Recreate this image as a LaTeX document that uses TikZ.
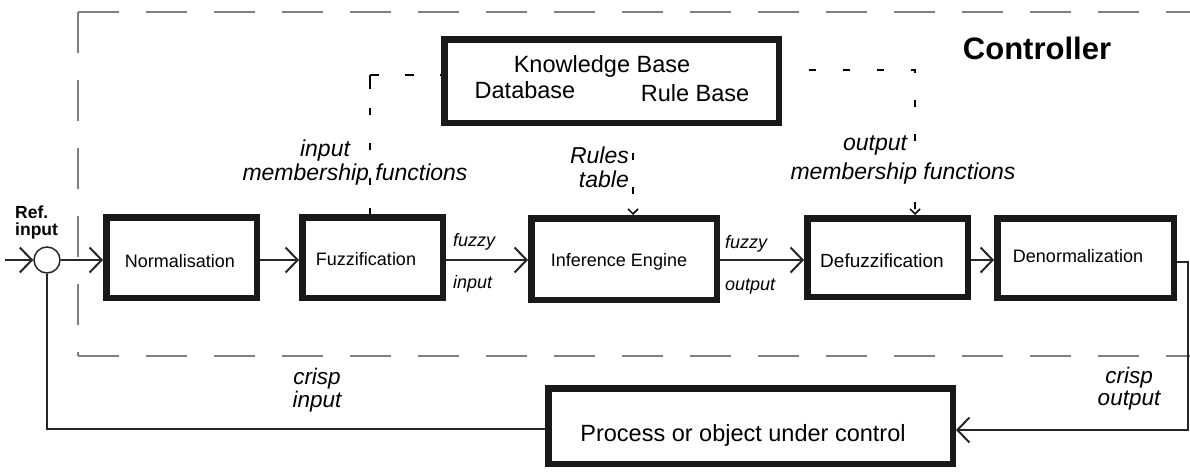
\documentclass[tikz,border=0pt]{standalone}
\usepackage{fontspec}
\setmainfont{Liberation Sans}
\usetikzlibrary{arrows.meta,calc}
\newcommand\myfs[1]{\fontsize{#1}{#1}\selectfont}
\begin{document}
\begin{tikzpicture}[x=1pt,y=-1pt,
  blk/.style={draw=black!90, line width=6.5pt, rectangle, inner sep=0pt},
  ln/.style={draw=black!85, line width=2pt},
  arr/.style={ln, -{Straight Barb[length=12pt,width=25pt]}},
  dsh/.style={draw=black, line width=1.5pt, dash pattern=on 7pt off 27pt, dash phase=7pt},
  sarr/.style={-{Straight Barb[length=5pt,width=10pt]}},
  bnd/.style={draw=black!50, line width=1.5pt, dash pattern=on 41pt off 27pt},
  t/.style={inner sep=0pt, anchor=base},
  tw/.style={inner sep=0pt, anchor=base west},
  te/.style={inner sep=0pt, anchor=base east},
  boxtxt/.style={t, font=\myfs{18}},
  itl/.style={font=\myfs{23}\itshape},
  its/.style={font=\myfs{18}\itshape},
]
\useasboundingbox (0,0) rectangle (1190,472);
\fill[white] (0,0) rectangle (1190,472);

% controller boundary
\draw[bnd] (78,12) -- (1190,12);
\draw[bnd] (78,12) -- (78,356);
\draw[bnd] (78,356) -- (1190,356);
\node[t, font=\myfs{31}\bfseries] (ctl) at (1037,59) {Controller};

% boxes
\node[blk, minimum width=150.5pt, minimum height=80.5pt] (nor) at (181.5,257.5) {};
\node[blk, minimum width=140.5pt, minimum height=80.5pt] (fuz) at (372.5,257.5) {};
\node[blk, minimum width=185.5pt, minimum height=81.5pt] (inf) at (624,259) {};
\node[blk, minimum width=160.5pt, minimum height=78.5pt] (def) at (887.5,257.5) {};
\node[blk, minimum width=176.5pt, minimum height=79.5pt] (den) at (1085.5,258) {};
\node[blk, minimum width=334.5pt, minimum height=83.5pt] (kb) at (611.5,81) {};
\node[blk, minimum width=404.5pt, minimum height=75.5pt] (pro) at (750.5,426) {};

% box texts
\node[boxtxt] (tnor) at (180,267) {Normalisation};
\node[boxtxt] (tfuz) at (366,265) {Fuzzification};
\node[boxtxt] (tinf) at (619,266) {Inference Engine};
\node[boxtxt, font=\myfs{19}] (tdef) at (882,267) {Defuzzification};
\node[boxtxt] (tden) at (1078,262) {Denormalization};
\node[t, font=\myfs{23.5}] (tkb) at (602,72) {Knowledge Base};
\node[t, font=\myfs{23.5}] (tdb) at (525,98) {Database};
\node[t, font=\myfs{23.5}] (trb) at (695,101) {Rule Base};
\node[t, font=\myfs{23.5}] (tpro) at (743,441) {Process or object under control};

% summing junction and reference input
\node[circle, draw=black!85, line width=1.5pt, minimum size=26pt, inner sep=0pt] (sum) at (47,260) {};
\node[tw, font=\myfs{17.5}\bfseries] (ref1) at (15,218) {Ref.};
\node[tw, font=\myfs{17.5}\bfseries] (ref2) at (15,235) {input};
\coordinate (in) at (5,260);
\coordinate (mid) at (0,260);
\coordinate (fbr) at (1188,262);

% main signal chain
\draw[arr] (in) -- (sum.west);
\draw[arr] (sum.east) -- (nor.west |- mid);
\draw[arr] (nor.east |- mid) -- (fuz.west |- mid);
\draw[arr] (fuz.east |- mid) -- (inf.west |- mid);
\draw[arr] (inf.east |- mid) -- (def.west |- mid);
\draw[arr] (def.east |- mid) -- (den.west |- mid);
\draw[arr] (den.east |- fbr) -- (fbr) |- ([yshift=-4pt]pro.east);
\draw[ln] ([yshift=-3pt]pro.west) -| (sum.south);

% knowledge base links
\coordinate (lc) at ($(fuz.north |- kb.west)+(-2.5,-6)$);
\draw[dsh, dash pattern=on 9pt off 26pt, dash phase=0pt] (lc) -- ([yshift=6pt]kb.west);
\draw[dsh, dash pattern=on 14pt off 19pt on 7pt off 28pt on 7pt off 28pt on 7pt off 23pt on 12pt off 200pt, dash phase=0pt] (lc) -- ([xshift=-2.5pt]fuz.north);
\draw[dsh, sarr] ([yshift=11pt]kb.east) -| ([xshift=27.5pt]def.north);
\draw[dsh, sarr] ([xshift=21.5pt]kb.south) -- ([xshift=9pt]inf.north);

% labels
\node[t, itl] (l1) at (325,156) {input};
\node[t, itl] (l2) at (355,180) {membership functions};
\node[t, itl] (l3) at (875,150) {output};
\node[t, itl] (l4) at (903,179) {membership functions};
\node[te, itl] (l5) at (629,163) {Rules};
\node[te, itl] (l6) at (629,187) {table};
\node[tw, its] (l7) at (453,246) {fuzzy};
\node[tw, its] (l8) at (453,288) {input};
\node[tw, its] (l9) at (725,248) {fuzzy};
\node[tw, its] (l10) at (725,290) {output};
\node[t, itl, font=\myfs{22.5}\itshape] (l11) at (317,384) {crisp};
\node[t, itl, font=\myfs{22.5}\itshape] (l12) at (317,407) {input};
\node[t, itl, font=\myfs{22.5}\itshape] (l13) at (1129,383) {crisp};
\node[t, itl, font=\myfs{22.5}\itshape] (l14) at (1129,405) {output};
\end{tikzpicture}
\end{document}
